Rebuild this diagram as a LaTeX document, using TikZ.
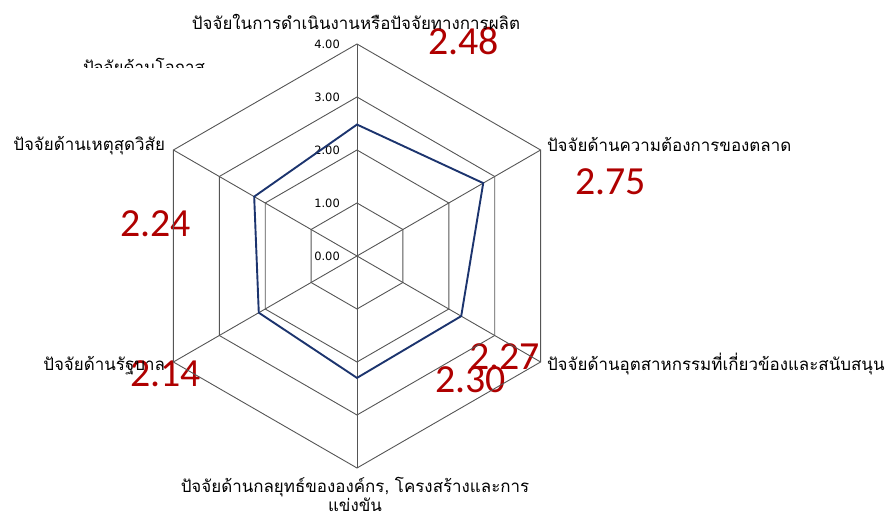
\documentclass[tikz,border=0pt]{standalone}
\usepackage{fontspec}
\newfontfamily\thaifont[Script=Thai]{Loma}
\newfontfamily\numfont{Carlito}
\newfontfamily\tickfont{DejaVu Sans}
\usetikzlibrary{calc, positioning}
\definecolor{gridgray}{RGB}{85,85,85}
\definecolor{seriesblue}{RGB}{28,52,110}
\definecolor{valred}{RGB}{175,0,0}
\tikzset{
  x=1bp, y=1bp,
  grid/.style={draw=gridgray, line width=0.9bp},
  series/.style={draw=seriesblue, line width=1.9bp, line join=miter},
  axislabel/.style={font=\thaifont\fontsize{17}{19}\selectfont, inner sep=0pt, outer sep=0pt},
  val/.style={font=\numfont\fontsize{40}{40}\selectfont, text=valred, inner sep=0pt, anchor=base west},
  tick/.style={font=\tickfont\fontsize{11.5}{11.5}\selectfont, inner sep=0pt, anchor=east}
}

\begin{document}
\begin{tikzpicture}
  \useasboundingbox (0,0) rectangle (890,513);
  \coordinate (o) at (357,257);

  % values in red
  \node[val] (v1) at (428,458) {2.48};
  \node[val] (v2) at (575,318) {2.75};
  \node[val] (v3) at (469,143) {2.27};
  \node[val] (v4) at (435,120) {2.30};
  \node[val] (v5) at (130,126) {2.14};
  \node[val] (v6) at (120,276) {2.24};

  % grid
  \foreach \a [count=\i] in {90,30,-30,-90,-150,150}
    \coordinate (ax\i) at ($(o)+(\a:212)$);
  \foreach \r in {1,...,4}
    \draw[grid, shift={(o)}] (90:\r*53) -- (30:\r*53) -- (-30:\r*53) -- (-90:\r*53) -- (-150:\r*53) -- (150:\r*53) -- cycle;
  \foreach \i in {1,...,6}
    \draw[grid] (o) -- (ax\i);

  % ticks
  \foreach \k in {0,...,4}
    \node[tick] (t\k) at ($(o)+(-17,\k*53)$) {\k.00};

  % series
  \foreach \a/\v [count=\i] in {90/2.48, 30/2.75, -30/2.27, -90/2.30, -150/2.14, 150/2.24}
    \coordinate (p\i) at ($(o)+(\a:\v*53)$);
  \draw[series] (p1) -- (p2) -- (p3) -- (p4) -- (p5) -- (p6) -- cycle;

  % axis labels
  \node[axislabel, anchor=base] (lbl1) at (356,483) {ปัจจัยในการดำเนินงานหรือปัจจัยทางการผลิต};
  \node[axislabel, anchor=base west] (lbl2) at (547,361) {ปัจจัยด้านความต้องการของตลาด};
  \node[axislabel, anchor=base west] (lbl3) at (547,142) {ปัจจัยด้านอุตสาหกรรมที่เกี่ยวข้องและสนับสนุน};
  \node[axislabel, anchor=base] (lbl4) at (355,20) {ปัจจัยด้านกลยุทธ์ขององค์กร, โครงสร้างและการ};
  \node[axislabel, anchor=base] (lbl4b) at ($(lbl4.base)+(0,-19)$) {แข่งขัน};
  \node[axislabel, anchor=base east] (lbl5) at (165,142) {ปัจจัยด้านรัฐบาล};
  \node[axislabel, anchor=base east] (lbl6) at (165,362) {ปัจจัยด้านเหตุสุดวิสัย};
  \begin{scope}
    \clip (60,445) rectangle (220,470);
    \node[axislabel, anchor=base west] (lbl7) at (83,439) {ปัจจัยด้านโอกาส};
  \end{scope}
\end{tikzpicture}
\end{document}
